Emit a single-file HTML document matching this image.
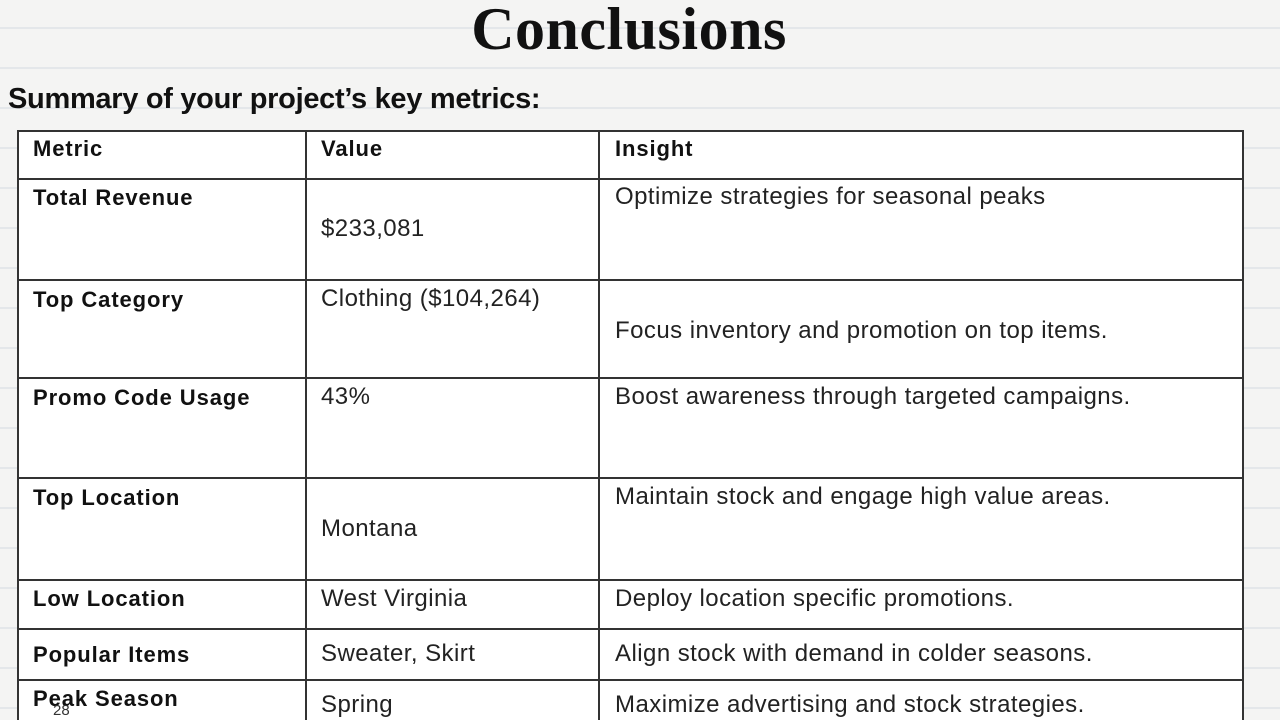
<!DOCTYPE html>
<html><head><meta charset="utf-8"><style>
html,body{margin:0;padding:0;width:1280px;height:720px;overflow:hidden}
body{position:relative;font-family:"Liberation Sans",sans-serif;
background:#f4f4f3;
background-image:repeating-linear-gradient(to bottom,transparent 0,transparent 27px,#e4e7ea 27px,#e4e7ea 29px,transparent 29px,transparent 40px);}
.t{position:absolute;white-space:nowrap}
h1{position:absolute;left:0;width:1258px;text-align:center;top:-5px;margin:0;font-family:"Liberation Serif",serif;font-weight:900;font-size:60px;color:#111;letter-spacing:0.5px}
.sub{left:8px;top:83px;font-size:29px;font-weight:bold;color:#111;letter-spacing:-0.3px}
.tbl{position:absolute;left:17px;top:130px;width:1227px;height:600px;background:#fff;border:2px solid #333;border-bottom:none;box-sizing:border-box}
.h{position:absolute;left:17px;width:1227px;height:2px;background:#333}
.v{position:absolute;top:130px;width:2px;height:590px;background:#333}
.c{position:absolute;font-size:24px;color:#222;white-space:nowrap;line-height:26px;letter-spacing:0.45px}
.b{font-weight:bold;color:#111;font-size:22px;letter-spacing:0.9px}
</style></head><body>
<h1>Conclusions</h1>
<div class="t sub">Summary of your project’s key metrics:</div>
<div class="tbl"></div>
<div class="h" style="top:178px"></div><div class="h" style="top:279px"></div><div class="h" style="top:377px"></div>
<div class="h" style="top:477px"></div><div class="h" style="top:579px"></div><div class="h" style="top:628px"></div><div class="h" style="top:679px"></div>
<div class="v" style="left:305px"></div><div class="v" style="left:598px"></div>

<div class="c b" style="left:33px;top:136px">Metric</div>
<div class="c b" style="left:321px;top:136px">Value</div>
<div class="c b" style="left:615px;top:136px">Insight</div>

<div class="c b" style="left:33px;top:185px">Total Revenue</div>
<div class="c" style="left:321px;top:216px">$233,081</div>
<div class="c" style="left:615px;top:184px">Optimize strategies for seasonal peaks</div>

<div class="c b" style="left:33px;top:287px">Top Category</div>
<div class="c" style="left:321px;top:286px">Clothing ($104,264)</div>
<div class="c" style="left:615px;top:318px">Focus inventory and promotion on top items.</div>

<div class="c b" style="left:33px;top:385px">Promo Code Usage</div>
<div class="c" style="left:321px;top:384px">43%</div>
<div class="c" style="left:615px;top:384px">Boost awareness through targeted campaigns.</div>

<div class="c b" style="left:33px;top:485px">Top Location</div>
<div class="c" style="left:321px;top:516px">Montana</div>
<div class="c" style="left:615px;top:484px">Maintain stock and engage high value areas.</div>

<div class="c b" style="left:33px;top:586px">Low Location</div>
<div class="c" style="left:321px;top:586px">West Virginia</div>
<div class="c" style="left:615px;top:586px">Deploy location specific promotions.</div>

<div class="c b" style="left:33px;top:642px">Popular Items</div>
<div class="c" style="left:321px;top:641px">Sweater, Skirt</div>
<div class="c" style="left:615px;top:641px">Align stock with demand in colder seasons.</div>

<div class="c b" style="left:33px;top:686px">Peak Season</div>
<div class="c" style="left:321px;top:692px">Spring</div>
<div class="c" style="left:615px;top:692px">Maximize advertising and stock strategies.</div>

<div class="t" style="left:53px;top:702px;font-size:15px;color:#333">28</div>
</body></html>
